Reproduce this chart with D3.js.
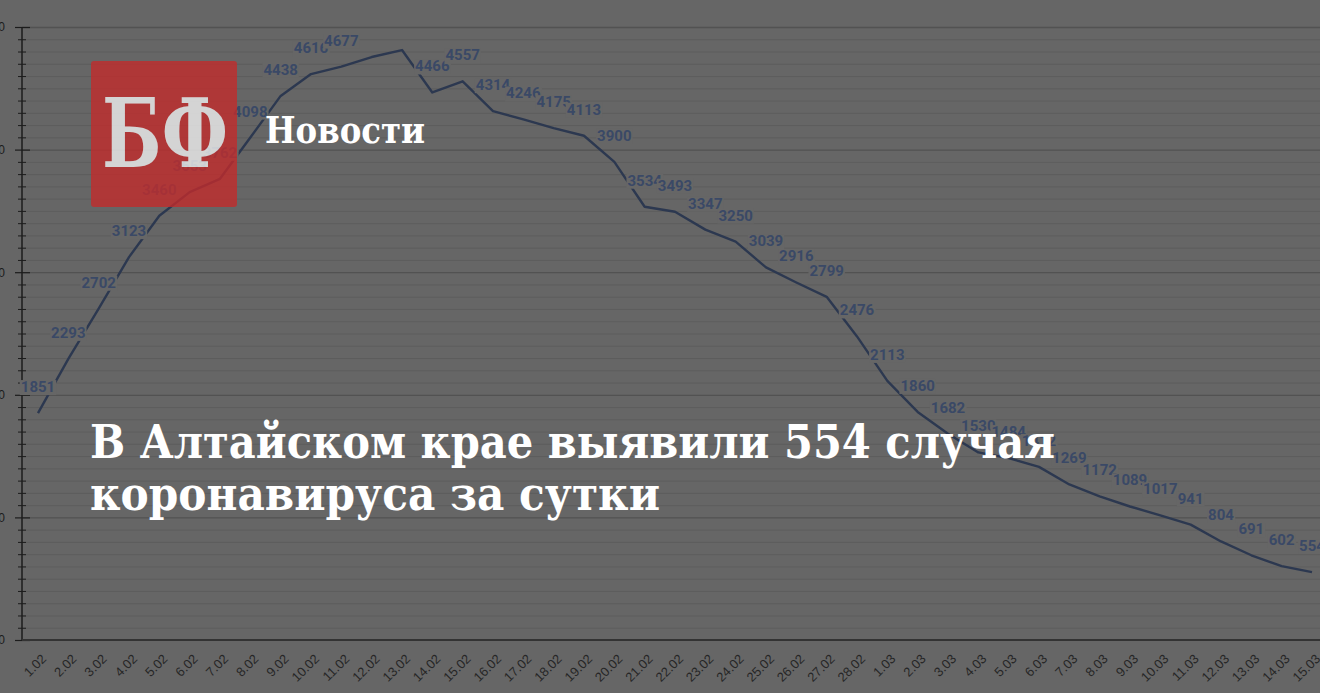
<!DOCTYPE html>
<html><head><meta charset="utf-8">
<script src="https://cdn.jsdelivr.net/npm/d3@7"></script>
<style>html,body{margin:0;padding:0;background:#666;overflow:hidden}</style>
</head><body>
<svg id="c" width="1320" height="693"></svg>
<script>
const dates = ["1.02","2.02","3.02","4.02","5.02","6.02","7.02","8.02","9.02","10.02","11.02","12.02","13.02","14.02","15.02","16.02","17.02","18.02","19.02","20.02","21.02","22.02","23.02","24.02","25.02","26.02","27.02","28.02","1.03","2.03","3.03","4.03","5.03","6.03","7.03","8.03","9.03","10.03","11.03","12.03","13.03","14.03","15.03"];
const cases = [1851,2293,2702,3123,3460,3653,3762,4098,4438,4616,4677,4755,4812,4466,4557,4314,4246,4175,4113,3900,3534,3493,3347,3250,3039,2916,2799,2476,2113,1860,1682,1530,1484,1412,1269,1172,1089,1017,941,804,691,602,554];
const hiddenLabels = ["12.02","13.02"];
const yTicks = [0,1000,2000,3000,4000,5000];
const title1 = "В Алтайском крае выявили 554 случая";
const title2 = "коронавируса за сутки";
const brand = "БФ";
const section = "Новости";

const W = 1320, H = 693;
const svg = d3.select("#c");
svg.append("rect").attr("width", W).attr("height", H).attr("fill", "#666");

const x = d3.scalePoint().domain(dates).range([38, 1312]);
const y = d3.scaleLinear().domain([0, 5000]).range([640, 27]);

// minor gridlines (every 100)
const minor = d3.range(100, 5000, 100).filter(v => v % 1000 !== 0);
svg.append("g").attr("transform", "translate(22,0)")
  .call(d3.axisRight(y).tickValues(minor).tickSize(W - 22).tickFormat(""))
  .call(g => g.select(".domain").remove())
  .selectAll("line").attr("stroke", "#5d5d5d");
// major gridlines
svg.append("g").attr("transform", "translate(22,0)")
  .call(d3.axisRight(y).tickValues(yTicks.slice(1)).tickSize(W - 22).tickFormat(""))
  .call(g => g.select(".domain").remove())
  .selectAll("line").attr("stroke", "#525252").attr("stroke-width", 1.3);

// y axis: minor ticks
svg.append("g").attr("transform", "translate(26,0)")
  .call(d3.axisLeft(y).tickValues(minor).tickSize(8).tickFormat(""))
  .call(g => g.select(".domain").remove())
  .selectAll("line").attr("stroke", "#1c1c1c");
// y axis: major ticks + labels
const ya = svg.append("g").attr("transform", "translate(30,0)")
  .call(d3.axisLeft(y).tickValues(yTicks).tickSize(15).tickPadding(10).tickFormat(d3.format("d")))
  .call(g => g.select(".domain").remove());
ya.selectAll("line").attr("stroke", "#1c1c1c").attr("stroke-width", 1.2);
ya.selectAll("text").attr("fill", "#1c1c1c").style("font", "12px 'Liberation Sans', Arial, sans-serif");
svg.append("line").attr("x1", 22).attr("x2", 22).attr("y1", y(5000)).attr("y2", y(0))
  .attr("stroke", "#1c1c1c").attr("stroke-width", 1.5);

// x axis
svg.append("line").attr("x1", 22).attr("x2", W).attr("y1", 640).attr("y2", 640)
  .attr("stroke", "#333").attr("stroke-width", 2.2);
const xa = svg.append("g").attr("transform", "translate(0,640)")
  .call(d3.axisBottom(x).tickSize(0).tickPadding(0))
  .call(g => g.select(".domain").remove());
xa.selectAll("text")
  .attr("text-anchor", "end")
  .attr("y", 0).attr("dy", "0.71em")
  .attr("transform", "translate(2,13) rotate(-45)")
  .attr("fill", "#262626")
  .style("font", "13px 'Liberation Sans', Arial, sans-serif");

// line
const pts = dates.map((d, i) => ({ d, v: cases[i] }));
svg.append("path").datum(pts)
  .attr("fill", "none").attr("stroke", "#2c3850").attr("stroke-width", 2.4)
  .attr("stroke-linejoin", "round")
  .attr("d", d3.line().x(p => x(p.d)).y(p => y(p.v)));

// data labels with opaque boxes
pts.filter(p => !hiddenLabels.includes(p.d)).forEach(p => {
  const g = svg.append("g");
  const t = g.append("text").attr("x", x(p.d)).attr("y", y(p.v) - 21)
    .attr("text-anchor", "middle").attr("fill", "#3a4966")
    .style("font", "bold 15px Roboto, 'Liberation Sans', sans-serif")
    .text(p.v);
  const b = t.node().getBBox();
  g.insert("rect", "text").attr("x", b.x - 1).attr("y", b.y + 2).attr("width", b.width + 2).attr("height", b.height - 3)
    .attr("fill", "#666");
});

// logo
const logo = svg.append("g").attr("opacity", 0.78);
logo.append("rect").attr("x", 91).attr("y", 61).attr("width", 146).attr("height", 146).attr("rx", 3)
  .attr("fill", "#c42b2b");
logo.append("text").attr("x", 165).attr("y", 167).attr("text-anchor", "middle")
  .attr("textLength", 126).attr("lengthAdjust", "spacingAndGlyphs")
  .attr("fill", "#f4f4f4").style("font", "bold 95px 'DejaVu Serif', serif").text(brand);

svg.append("text").attr("x", 265).attr("y", 143)
  .attr("textLength", 160).attr("lengthAdjust", "spacingAndGlyphs")
  .attr("fill", "#fff").style("font", "bold 37px 'DejaVu Serif', serif").text(section);

svg.append("text").attr("x", 90).attr("y", 458)
  .attr("textLength", 965).attr("lengthAdjust", "spacingAndGlyphs")
  .attr("fill", "#fff").style("font", "bold 47px 'DejaVu Serif', serif").text(title1);
svg.append("text").attr("x", 90).attr("y", 510)
  .attr("textLength", 570).attr("lengthAdjust", "spacingAndGlyphs")
  .attr("fill", "#fff").style("font", "bold 47px 'DejaVu Serif', serif").text(title2);
</script>
</body></html>
